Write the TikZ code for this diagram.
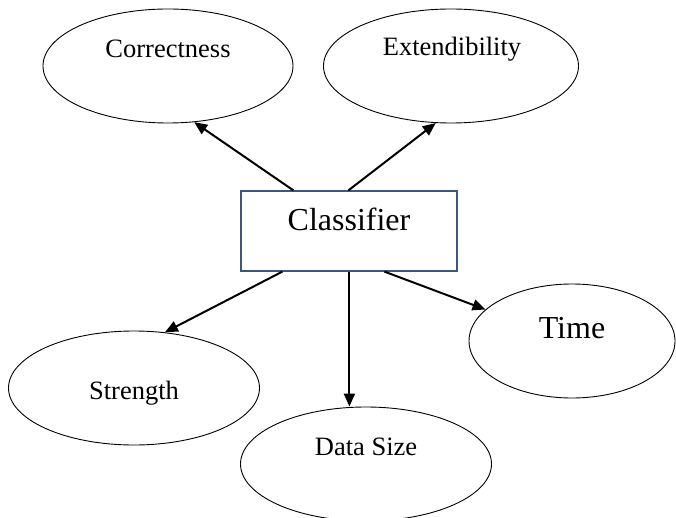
\documentclass[tikz,border=0pt]{standalone}
\usepackage{fontspec}
\setmainfont{Liberation Serif}
\usetikzlibrary{shapes.geometric,arrows.meta,calc}
\definecolor{boxcol}{RGB}{60,88,125}
\begin{document}
\begin{tikzpicture}[x=1pt,y=1pt,
  oval/.style={ellipse,draw=black,line width=0.9pt,inner sep=0pt,minimum height=114pt},
  smalltxt/.style={font=\fontsize{26.5}{30}\selectfont},
  bigtxt/.style={font=\fontsize{32}{36}\selectfont},
  arr/.style={line width=2pt,-{Triangle[length=13pt,width=11pt]}}]
\useasboundingbox (0,0) rectangle (676,-518);
\node[draw=boxcol,line width=1.2pt,minimum width=216pt,minimum height=80pt,inner sep=0pt] (cls) at (349,-231) {};
\node[bigtxt] (clst) at (349,-219) {Classifier};
\node[oval,minimum width=250pt] (cor) at (168,-66) {};
\node[smalltxt] (cort) at (168,-49) {Correctness};
\node[oval,minimum width=255pt] (ext) at (451,-66) {};
\node[smalltxt] (extt) at (452,-49) {Extendibility};
\node[oval,minimum width=251pt] (str) at (134,-388) {};
\node[smalltxt] (strt) at (134,-393) {Strength};
\node[oval,minimum width=251pt] (dat) at (366,-464) {};
\node[smalltxt] (datt) at (366,-447) {Data Size};
\node[oval,minimum width=206pt] (tim) at (572,-341) {};
\node[bigtxt] (timt) at (572,-328) {Time};
\draw[arr] ($(cls.north west)+(53,0)$) -- (cor.-65);
\draw[arr] ($(cls.north west)+(108,0)$) -- (ext.-105);
\draw[arr] ($(cls.south west)+(42,0)$) -- (str.61);
\draw[arr] ($(cls.south west)+(109,0)$) -- (dat.north -| {$(cls.south west)+(109,0)$});
\draw[arr] ($(cls.south west)+(144,0)$) -- (tim.160);
\end{tikzpicture}
\end{document}
